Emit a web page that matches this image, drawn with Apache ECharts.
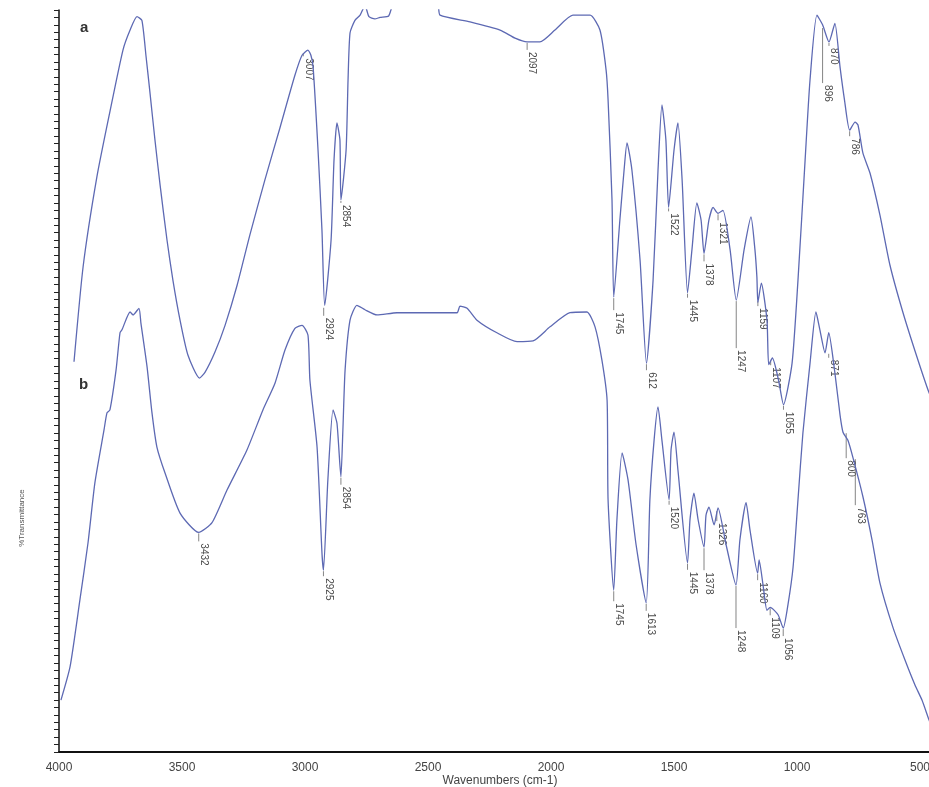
<!DOCTYPE html>
<html><head><meta charset="utf-8">
<script src="https://cdn.jsdelivr.net/npm/echarts@6/dist/echarts.min.js"></script>
<style>html,body{margin:0;padding:0;background:#fff;overflow:hidden}#c{width:929px;height:787px}</style>
</head><body><div id="c"></div>
<script>
// x tick labels (wavenumbers, cm-1)
const xTicks = [4000, 3500, 3000, 2500, 2000, 1500, 1000, 500];

// spectrum a: [wavenumber, %T]
const spectrumA = [
  [3939,52.6],[3902,65.4],[3846,77.5],[3793,86.3],[3740,94.6],[3711,97.3],[3683,99.1],[3663,98.6],
  [3646,93.7],[3630,88.8],[3610,82.5],[3589,76.4],[3561,69.0],[3537,63.6],[3508,58.2],[3476,53.5],
  [3429,50.4],[3406,51.2],[3366,53.9],[3325,57.5],[3276,62.9],[3224,69.7],[3163,77.1],[3102,84.1],
  [3041,91.2],[3012,93.9],[2988,94.6],[2976,93.9],[2967,92.3],[2947,81.1],[2931,70.3],[2920,60.2],
  [2894,69.0],[2882,79.8],[2870,84.8],[2858,82.5],[2854,74.4],[2833,81.1],[2825,90.6],[2817,96.9],
  [2797,98.6],[2776,99.3],[2756,100.6],[2740,99.1],[2716,98.8],[2695,99.0],[2660,99.2],[2640,100.8],
  [2533,102.0],[2460,100.6],[2451,99.3],[2329,98.4],[2207,97.3],[2146,96.2],[2097,95.7],[2045,95.7],
  [1984,97.3],[1911,99.3],[1841,99.3],[1801,97.3],[1776,91.9],[1768,87.9],[1752,74.4],[1745,61.3],
  [1720,71.7],[1703,78.4],[1691,82.1],[1671,78.4],[1638,66.3],[1612,52.4],[1585,63.6],[1565,78.4],
  [1549,87.2],[1533,82.5],[1522,73.4],[1500,81.1],[1484,84.8],[1467,77.1],[1445,61.9],[1427,67.7],
  [1407,74.0],[1390,71.7],[1378,67.2],[1358,71.7],[1341,73.4],[1321,72.6],[1301,73.0],[1272,67.7],
  [1247,60.9],[1215,67.7],[1187,72.1],[1171,67.7],[1163,64.0],[1159,60.6],[1145,63.2],[1122,58.2],
  [1115,52.2],[1100,53.1],[1075,50.1],[1055,46.8],[1020,52.4],[996,63.6],[967,79.8],[947,90.6],
  [919,99.3],[896,98.0],[870,95.7],[846,98.2],[825,92.3],[807,87.9],[786,83.8],[764,84.9],
  [752,84.5],[732,80.7],[703,78.0],[663,72.4],[622,65.6],[569,59.2],[512,53.2],[463,48.4],[430,46.0]
];

// spectrum b: [wavenumber, %T]
const spectrumB = [
  [3992,7.0],[3955,11.5],[3915,20.5],[3882,28.2],[3854,36.3],[3817,43.4],[3805,45.7],[3793,46.1],
  [3768,51.5],[3752,56.5],[3744,56.9],[3711,59.3],[3699,58.9],[3675,59.8],[3667,57.8],[3642,51.9],
  [3622,45.7],[3602,41.1],[3569,37.6],[3508,32.2],[3432,29.6],[3378,30.9],[3317,35.3],[3236,40.7],
  [3171,46.1],[3122,49.7],[3081,54.2],[3041,57.1],[3012,57.5],[2988,56.2],[2980,50.1],[2951,41.1],
  [2931,26.8],[2925,24.5],[2907,36.7],[2886,46.1],[2870,44.3],[2854,37.1],[2846,43.4],[2837,51.5],
  [2817,58.2],[2789,60.2],[2756,59.6],[2707,58.9],[2626,59.2],[2382,59.2],[2370,60.1],[2341,59.8],
  [2301,58.2],[2220,56.5],[2138,55.3],[2073,55.4],[2004,57.3],[1923,59.2],[1854,59.3],[1821,57.3],
  [1793,52.8],[1772,47.4],[1768,34.0],[1745,21.8],[1732,31.3],[1711,40.3],[1687,36.7],[1654,27.9],
  [1613,20.1],[1598,34.0],[1581,42.0],[1565,46.5],[1549,42.0],[1520,34.0],[1512,40.7],[1500,43.1],
  [1484,38.0],[1445,25.5],[1435,31.3],[1419,34.9],[1402,31.3],[1378,27.6],[1370,31.9],[1358,33.0],
  [1337,30.6],[1321,32.9],[1288,27.9],[1248,22.5],[1232,28.6],[1207,33.6],[1191,29.9],[1160,24.1],
  [1154,25.9],[1138,22.5],[1122,19.1],[1109,19.5],[1077,18.5],[1056,16.7],[1037,19.8],[1016,24.9],
  [996,34.0],[976,43.0],[947,52.4],[923,59.3],[907,56.9],[886,53.8],[871,56.5],[846,51.1],
  [825,45.4],[813,43.1],[793,42.0],[772,39.6],[732,34.4],[695,28.6],[663,22.8],[610,16.8],
  [561,12.4],[520,9.0],[492,7.0],[463,4.3],[430,1.5]
];

// peak annotations: [wavenumber, %T at the marked point]
const peaksA = [[3007,94.3],[2924,60.0],[2854,74.4],[2097,95.7],[1745,61.3],[1612,52.4],[1522,73.4],
  [1445,61.9],[1378,67.2],[1321,72.6],[1247,60.9],[1159,60.9],[1107,52.8],[1055,46.8],[896,97.7],
  [870,95.7],[786,83.8]];
const peakTextA = ['3007','2924','2854','2097','1745','612','1522','1445','1378','1321','1247','1159',
  '1107','1055','896','870','786'];
const peaksB = [[3432,29.6],[2925,24.5],[2854,37.1],[1745,21.8],[1613,20.1],[1520,34.0],[1445,25.5],
  [1378,27.6],[1326,32.6],[1248,22.5],[1160,24.1],[1109,19.5],[1056,16.7],[871,53.8],[800,43.1],[763,39.6]];
const peakTextB = ['3432','2925','2854','1745','1613','1520','1445','1378','1326','1248','1160','1109',
  '1056','871','800','763'];

// leader lengths (px) for each annotation (style)
const leaderA = [4,9,3,8,13,7,4,5,8,7,48,6,5,5,56,4,6];
const leaderB = [9,6,8,11,8,5,7,23,11,43,7,8,8,5,26,47];

const lineColor = '#5d69b3';
const textColor = '#4a4a4a';

function peakRenderer(texts, leaders) {
  return function (params, api) {
    const p = api.coord([api.value(0), api.value(1)]);
    const L = leaders[params.dataIndex];
    return {
      type: 'group',
      children: [
        { type: 'line', shape: { x1: p[0], y1: p[1] + 1, x2: p[0], y2: p[1] + L },
          style: { stroke: '#666', lineWidth: 0.8 } },
        { type: 'text', x: p[0] + 5, y: p[1] + L + 2, rotation: -Math.PI / 2,
          style: { text: texts[params.dataIndex], fill: textColor,
                   font: '10px "Liberation Sans", Arial, sans-serif',
                   align: 'left', verticalAlign: 'middle' } }
      ]
    };
  };
}

const chart = echarts.init(document.getElementById('c'), null, { renderer: 'canvas' });
chart.setOption({
  animation: false,
  backgroundColor: '#ffffff',
  grid: { left: 59, top: 10, height: 742, width: 984, containLabel: false, outerBoundsMode: 'none' },
  xAxis: {
    type: 'value', inverse: true, min: 0, max: 4000, interval: 500,
    axisLine: { show: true, onZero: false, lineStyle: { color: '#111', width: 2 } },
    axisTick: { show: false },
    splitLine: { show: false },
    axisLabel: { color: '#444', fontSize: 12, margin: 10, fontFamily: 'Liberation Sans',
      formatter: v => (xTicks.indexOf(v) >= 0 ? String(v) : '') }
  },
  yAxis: {
    type: 'value', min: 0, max: 100, interval: 1, position: 'left',
    axisLine: { show: true, onZero: false, lineStyle: { color: '#111', width: 1.5 } },
    axisTick: { show: true, length: 5, lineStyle: { color: '#222', width: 1 } },
    axisLabel: { show: false },
    splitLine: { show: false }
  },
  graphic: [
    { type: 'text', left: 80, top: 20, style: { text: 'a', fill: '#333', font: 'bold 15px "Liberation Sans", Arial, sans-serif' } },
    { type: 'text', left: 79, top: 377, style: { text: 'b', fill: '#333', font: 'bold 15px "Liberation Sans", Arial, sans-serif' } },
    { type: 'text', x: 22, y: 518, rotation: Math.PI / 2,
      style: { text: '%Transmittance', fill: '#555', font: '8px "Liberation Sans", Arial, sans-serif',
               align: 'center', verticalAlign: 'middle' } },
    { type: 'text', x: 500, y: 781,
      style: { text: 'Wavenumbers (cm-1)', fill: '#444', font: '12px "Liberation Sans", Arial, sans-serif',
               align: 'center', verticalAlign: 'middle' } }
  ],
  series: [
    { name: 'a', type: 'line', data: spectrumA, showSymbol: false, smooth: 0.2,
      lineStyle: { color: lineColor, width: 1.3 }, clip: true },
    { name: 'b', type: 'line', data: spectrumB, showSymbol: false, smooth: 0.2,
      lineStyle: { color: lineColor, width: 1.3 }, clip: true },
    { name: 'peaksA', type: 'custom', data: peaksA, encode: { x: 0, y: 1 },
      renderItem: peakRenderer(peakTextA, leaderA) },
    { name: 'peaksB', type: 'custom', data: peaksB, encode: { x: 0, y: 1 },
      renderItem: peakRenderer(peakTextB, leaderB) }
  ]
});
</script>
</body></html>
